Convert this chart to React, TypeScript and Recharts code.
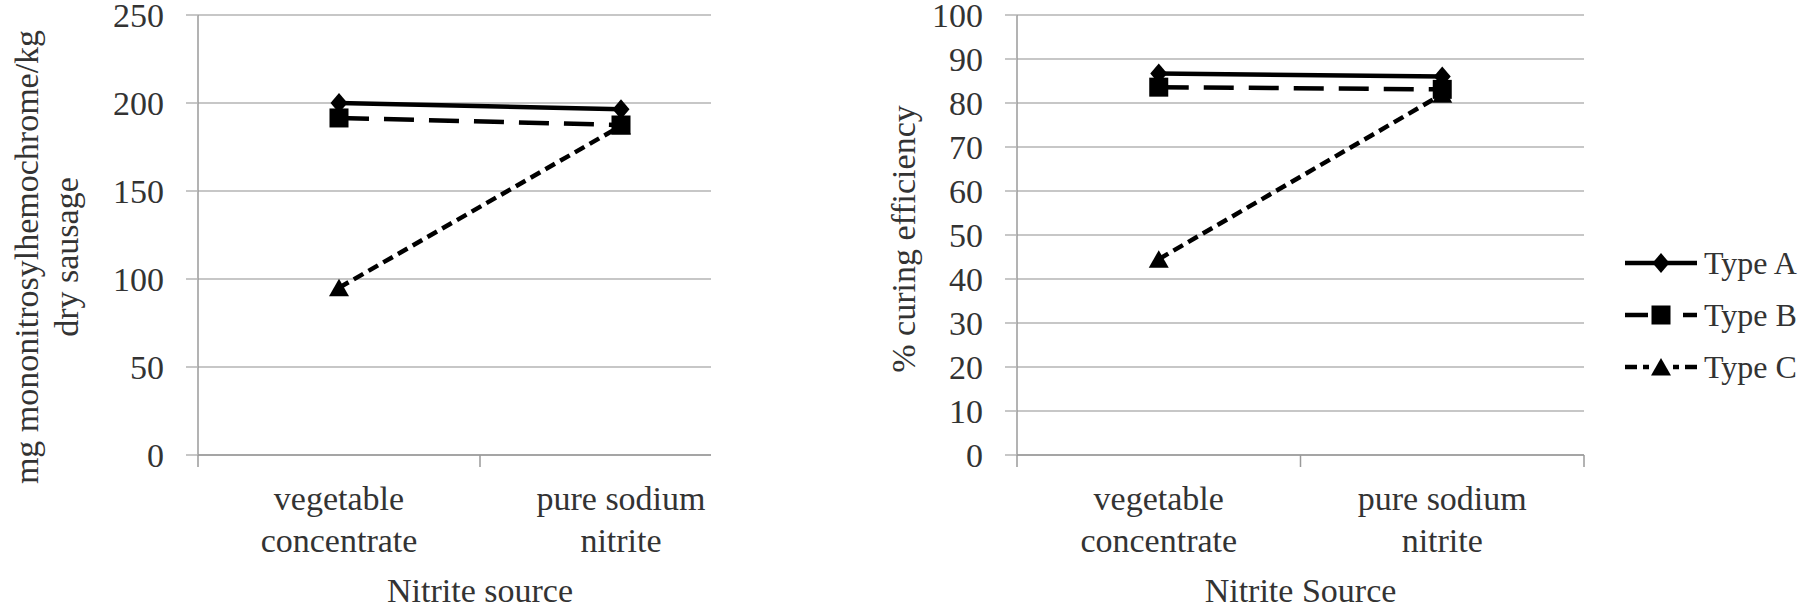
import React from 'react';
import { LineChart, Line, XAxis, YAxis, CartesianGrid, Label } from 'recharts';

// ---------- data ----------
const categories = ['vegetable concentrate', 'pure sodium nitrite'];
const categoryLines = [
  ['vegetable', 'concentrate'],
  ['pure sodium', 'nitrite'],
];
const seriesNames = ['Type A', 'Type B', 'Type C'];

const monoTypeA = [200, 196.5];
const monoTypeB = [191.5, 187.5];
const monoTypeC = [95, 187];

const effTypeA = [86.7, 86];
const effTypeB = [83.6, 83.1];
const effTypeC = [44.5, 82];

const monoTicks = [0, 50, 100, 150, 200, 250];
const effTicks = [0, 10, 20, 30, 40, 50, 60, 70, 80, 90, 100];
const xTicks = [-0.5, 0, 0.5, 1, 1.5];

const leftYTitle = ['mg mononitrosylhemochrome/kg', 'dry sausage'];
const leftXTitle = 'Nitrite source';
const rightYTitle = '% curing efficiency';
const rightXTitle = 'Nitrite Source';

// ---------- styles ----------
const FONT = 'Liberation Serif, Tinos, Times New Roman, Times, DejaVu Serif, Noto Serif, serif';
const TEXT = '#333333';
const GRID = '#b5b5b5';
const AXIS = '#9a9a9a';
const FS = 34;
const STROKE = 4.5;
const dashes = ['', '30 15', '11 6'];
const shapes = ['diamond', 'square', 'triangle'];

const monoData = categories.map((c, i) => ({
  idx: i,
  name: c,
  A: monoTypeA[i],
  B: monoTypeB[i],
  C: monoTypeC[i],
}));
const effData = categories.map((c, i) => ({
  idx: i,
  name: c,
  A: effTypeA[i],
  B: effTypeB[i],
  C: effTypeC[i],
}));

function Marker({ shape, cx, cy }: { shape: string; cx: number; cy: number }) {
  if (shape === 'diamond') {
    return (
      <polygon
        points={`${cx},${cy - 10} ${cx + 8.5},${cy} ${cx},${cy + 10} ${cx - 8.5},${cy}`}
        fill="#000"
      />
    );
  }
  if (shape === 'square') {
    return <rect x={cx - 9.5} y={cy - 9.5} width={19} height={19} fill="#000" />;
  }
  return (
    <polygon
      points={`${cx},${cy - 9} ${cx + 10},${cy + 8.5} ${cx - 10},${cy + 8.5}`}
      fill="#000"
    />
  );
}

const makeDot = (shape: string) => (p: any) => {
  if (p.cx == null || p.cy == null) return <g key={p.key ?? p.index} />;
  return (
    <g key={p.key ?? `${shape}-${p.index}`}>
      <Marker shape={shape} cx={p.cx} cy={p.cy} />
    </g>
  );
};

const XTick = (props: any) => {
  const { x, y, payload } = props;
  const v = payload.value;
  if (Number.isInteger(v)) {
    const lines = categoryLines[v] || [];
    return (
      <text x={x} y={y} textAnchor="middle" style={{ fontFamily: FONT }} fontSize={FS} fill={TEXT}>
        <tspan x={x} dy={55}>{lines[0]}</tspan>
        <tspan x={x} dy={42}>{lines[1]}</tspan>
      </text>
    );
  }
  return <line x1={x} x2={x} y1={y} y2={y + 12} stroke={AXIS} strokeWidth={1.5} />;
};

const xTitle = (text: string) => (props: any) => {
  const vb = props.viewBox || {};
  return (
    <text
      x={vb.x + vb.width / 2}
      y={vb.y + 147}
      textAnchor="middle"
      style={{ fontFamily: FONT }}
      fontSize={FS}
      fill={TEXT}
    >
      {text}
    </text>
  );
};

const yTitle = (lines: string[], xs: number[], cy: number) => () => (
  <g>
    {lines.map((t, i) => (
      <text
        key={i}
        x={xs[i]}
        y={cy}
        transform={`rotate(-90 ${xs[i]} ${cy})`}
        textAnchor="middle"
        dominantBaseline="central"
        style={{ fontFamily: FONT }}
        fontSize={FS}
        fill={TEXT}
      >
        {t}
      </text>
    ))}
  </g>
);

function Panel({
  data,
  ticks,
  yMax,
  width,
  yAxisWidth,
  marginRight,
  yTitleLines,
  yTitleXs,
  yTitleCy,
  xTitleText,
}: any) {
  return (
    <LineChart
      width={width}
      height={609}
      data={data}
      margin={{ top: 15, right: marginRight, bottom: 0, left: 0 }}
      style={{ fontFamily: FONT }}
    >
      <CartesianGrid horizontal vertical={false} stroke={GRID} strokeWidth={1.5} />
      <XAxis
        dataKey="idx"
        type="number"
        domain={[-0.5, 1.5]}
        ticks={xTicks}
        interval={0}
        height={154}
        tickSize={0}
        tickMargin={0}
        tickLine={false}
        axisLine={{ stroke: AXIS, strokeWidth: 1.5 }}
        tick={<XTick />}
        allowDataOverflow
      >
        <Label content={xTitle(xTitleText)} />
      </XAxis>
      <YAxis
        type="number"
        domain={[0, yMax]}
        ticks={ticks}
        interval={0}
        width={yAxisWidth}
        tickSize={12}
        tickMargin={22}
        tickLine={{ stroke: GRID, strokeWidth: 1.5 }}
        axisLine={{ stroke: AXIS, strokeWidth: 1.5 }}
        tick={{ fontFamily: FONT, fontSize: FS, fill: TEXT, style: { fontFamily: FONT } }}
      >
        <Label content={yTitle(yTitleLines, yTitleXs, yTitleCy)} />
      </YAxis>
      {['A', 'B', 'C'].map((k, i) => (
        <Line
          key={k}
          dataKey={k}
          name={seriesNames[i]}
          stroke="#000"
          strokeWidth={STROKE}
          strokeDasharray={dashes[i] || undefined}
          dot={makeDot(shapes[i])}
          isAnimationActive={false}
          type="linear"
        />
      ))}
    </LineChart>
  );
}

// legend line segments per series (solid pieces either side of the marker)
const legendSegments = [
  [[5, 77]],
  [[5, 28], [63, 77]],
  [[5, 17], [23, 29], [53, 59], [65, 77]],
];

function LegendBox() {
  return (
    <div style={{ position: 'absolute', left: 1620, top: 237, width: 196 }}>
      {seriesNames.map((n, i) => (
        <div key={n} style={{ height: 52, display: 'flex', alignItems: 'center' }}>
          <svg width={84} height={52} style={{ display: 'block' }}>
            {legendSegments[i].map((s, j) => (
              <line key={j} x1={s[0]} x2={s[1]} y1={26} y2={26} stroke="#000" strokeWidth={STROKE} />
            ))}
            <Marker shape={shapes[i]} cx={41} cy={26} />
          </svg>
          <span style={{ fontFamily: FONT, fontSize: 32, color: TEXT, lineHeight: '52px', whiteSpace: 'nowrap' }}>
            {n}
          </span>
        </div>
      ))}
    </div>
  );
}

export default function App() {
  return (
    <div
      style={{
        position: 'absolute',
        left: 0,
        top: 0,
        width: 1816,
        height: 609,
        background: '#fff',
        overflow: 'hidden',
        fontFamily: FONT,
      }}
    >
      <div style={{ position: 'absolute', left: 0, top: 0 }}>
        <Panel
          data={monoData}
          ticks={monoTicks}
          yMax={250}
          width={800}
          yAxisWidth={198}
          marginRight={38}
          yTitleLines={leftYTitle}
          yTitleXs={[26, 66]}
          yTitleCy={257}
          xTitleText={leftXTitle}
        />
      </div>
      <div style={{ position: 'absolute', left: 711, top: 0, width: 1105, height: 609, background: '#fff' }}>
        <Panel
          data={effData}
          ticks={effTicks}
          yMax={100}
          width={1105}
          yAxisWidth={306}
          marginRight={232}
          yTitleLines={[rightYTitle]}
          yTitleXs={[192]}
          yTitleCy={239}
          xTitleText={rightXTitle}
        />
      </div>
      <LegendBox />
    </div>
  );
}
